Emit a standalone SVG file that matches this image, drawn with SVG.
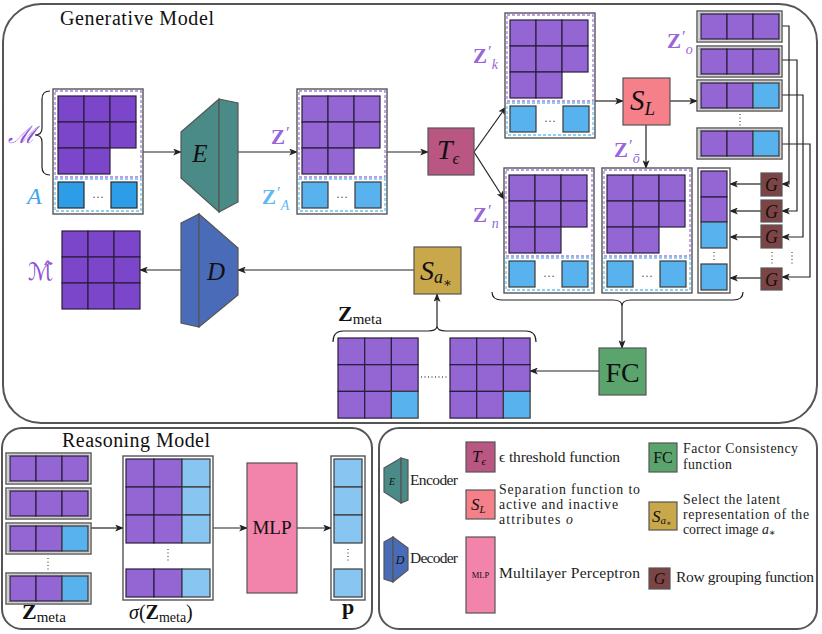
<svg xmlns="http://www.w3.org/2000/svg" width="822" height="634" viewBox="0 0 822 634">
<defs>
<style>
text{font-family:"Liberation Serif","DejaVu Serif",serif;fill:#111}
.panel{fill:none;stroke:#555;stroke-width:2}
.ob{fill:#fff;stroke:#555;stroke-width:1.4}
.ib{fill:none;stroke:#888;stroke-width:0.8}
.cp{fill:#9466d4;stroke:#2b1d3d;stroke-width:1.2}
.cm{fill:#7b46c9;stroke:#2b1d3d;stroke-width:1.2}
.cb{fill:#58b2ee;stroke:#3a3a3a;stroke-width:1.2}
.ca{fill:#2d9de8;stroke:#2a2a2a;stroke-width:1.2}
.cl{fill:#88c6f1;stroke:#3a3a3a;stroke-width:1.2}
.dp{fill:none;stroke:#a27ee0;stroke-width:1.3;stroke-dasharray:3 2}
.db{fill:none;stroke:#6cc0f0;stroke-width:1.3;stroke-dasharray:3 2}
.ln{fill:none;stroke:#222;stroke-width:1.2}
.arr{fill:none;stroke:#222;stroke-width:1.2;marker-end:url(#ah)}
.dot{fill:none;stroke:#555;stroke-width:1.3;stroke-dasharray:1 2.5}
.fn{stroke:#555;stroke-width:1.2}
.it{font-style:italic}
.zl{font-size:21px;font-weight:bold}
.pr{font-size:17px;font-weight:normal}
.sb{font-size:14px;font-style:italic;font-weight:normal}
.lg{font-size:15.5px;fill:#222}
.lg2{font-size:13.8px;fill:#222}
.cd{font-size:12px;fill:#555;text-anchor:middle}
.mid{text-anchor:middle}
</style>
<marker id="ah" viewBox="0 0 10 8" refX="9" refY="4" markerWidth="9" markerHeight="7" orient="auto" markerUnits="userSpaceOnUse"><path d="M0,0 L10,4 L0,8 L2.5,4 Z" fill="#222"/></marker>
<g id="blkM">
<rect class="ob" width="90" height="125"/>
<rect class="dp" x="2" y="2" width="86" height="86"/>
<rect class="cm" x="5" y="7" width="26" height="26"/><rect class="cm" x="31" y="7" width="26" height="26"/><rect class="cm" x="57" y="7" width="26" height="26"/>
<rect class="cm" x="5" y="33" width="26" height="26"/><rect class="cm" x="31" y="33" width="26" height="26"/><rect class="cm" x="57" y="33" width="26" height="26"/>
<rect class="cm" x="5" y="59" width="26" height="26"/><rect class="cm" x="31" y="59" width="26" height="26"/>
<rect class="db" x="2" y="90" width="86" height="32"/>
<rect class="ca" x="5" y="93" width="26" height="26"/><rect class="ca" x="58" y="93" width="26" height="26"/>
</g>
<g id="blkZ">
<rect class="ob" width="90" height="125"/>
<rect class="dp" x="2" y="2" width="86" height="86"/>
<rect class="cp" x="5" y="7" width="26" height="26"/><rect class="cp" x="31" y="7" width="26" height="26"/><rect class="cp" x="57" y="7" width="26" height="26"/>
<rect class="cp" x="5" y="33" width="26" height="26"/><rect class="cp" x="31" y="33" width="26" height="26"/><rect class="cp" x="57" y="33" width="26" height="26"/>
<rect class="cp" x="5" y="59" width="26" height="26"/><rect class="cp" x="31" y="59" width="26" height="26"/>
<rect class="db" x="2" y="90" width="86" height="32"/>
<rect class="cb" x="5" y="93" width="26" height="26"/><rect class="cb" x="58" y="93" width="26" height="26"/>
</g>
<g id="rowP">
<rect class="ob" width="85" height="31"/>
<rect class="ib" x="2" y="2" width="81" height="27"/>
<rect class="cp" x="4" y="3" width="26" height="25"/><rect class="cp" x="30" y="3" width="26" height="25"/><rect class="cp" x="56" y="3" width="26" height="25"/>
</g>
<g id="rowB">
<rect class="ob" width="85" height="31"/>
<rect class="ib" x="2" y="2" width="81" height="27"/>
<rect class="cp" x="4" y="3" width="26" height="25"/><rect class="cp" x="30" y="3" width="26" height="25"/><rect class="cb" x="56" y="3" width="26" height="25"/>
</g>
<g id="zm">
<rect class="cp" x="0" y="0" width="26.7" height="26.7"/><rect class="cp" x="26.7" y="0" width="26.7" height="26.7"/><rect class="cp" x="53.4" y="0" width="26.7" height="26.7"/>
<rect class="cp" x="0" y="26.7" width="26.7" height="26.7"/><rect class="cp" x="26.7" y="26.7" width="26.7" height="26.7"/><rect class="cp" x="53.4" y="26.7" width="26.7" height="26.7"/>
<rect class="cp" x="0" y="53.4" width="26.7" height="26.7"/><rect class="cp" x="26.7" y="53.4" width="26.7" height="26.7"/><rect class="cb" x="53.4" y="53.4" width="26.7" height="26.7"/>
</g>
</defs>

<g id="panels">
<rect class="panel" x="3" y="4" width="814" height="419" rx="38"/>
<rect class="panel" x="2" y="428" width="370" height="201" rx="20"/>
<rect class="panel" x="379" y="428" width="438" height="201" rx="20"/>
<text x="60" y="25" font-size="20" textLength="154">Generative Model</text>
<text x="62" y="447" font-size="20" textLength="148">Reasoning Model</text>
</g>

<g id="connectors">
<line class="arr" x1="143" y1="152" x2="181" y2="152"/>
<line class="arr" x1="238" y1="152" x2="297" y2="152"/>
<line class="arr" x1="387" y1="152" x2="428" y2="152"/>
<line class="arr" x1="474" y1="152" x2="506" y2="107"/>
<line class="arr" x1="474" y1="152" x2="504" y2="199"/>
<line class="arr" x1="595" y1="101" x2="623" y2="101"/>
<line class="arr" x1="670" y1="101" x2="697" y2="101"/>
<line class="arr" x1="646" y1="125" x2="646" y2="168"/>
<polyline class="arr" points="782,26 789,26 789,184 782,184"/>
<polyline class="arr" points="782,60 797,60 797,211 782,211"/>
<polyline class="arr" points="782,95 803,95 803,237 782,237"/>
<polyline class="arr" points="782,144 810,144 810,277 782,277"/>
<line class="arr" x1="761" y1="184" x2="730" y2="184"/>
<line class="arr" x1="761" y1="211" x2="730" y2="211"/>
<line class="arr" x1="761" y1="237" x2="730" y2="237"/>
<line class="arr" x1="761" y1="278" x2="730" y2="278"/>
<line class="dot" x1="740" y1="114" x2="740" y2="127"/>
<line class="dot" x1="772" y1="252" x2="772" y2="265"/>
<line class="dot" x1="792" y1="252" x2="792" y2="265"/>
<path class="ln" d="M492,292 Q492,300 502,300 L613,300 Q622,300 622,306 Q622,300 631,300 L733,300 Q743,300 743,292"/>
<line class="arr" x1="622" y1="306" x2="622" y2="348"/>
<line class="arr" x1="599" y1="371" x2="530" y2="371"/>
<path class="ln" d="M333,342 Q333,331 343,331 L428,331 Q437,331 437,326 Q437,331 446,331 L526,331 Q536,331 536,342"/>
<line class="arr" x1="437" y1="326" x2="437" y2="294"/>
<line class="arr" x1="414" y1="270" x2="238" y2="270"/>
<line class="arr" x1="181" y1="270" x2="140" y2="270"/>
<path class="ln" d="M50,91 Q42,91 42,99 L42,128 Q42,135 35,135 Q42,135 42,142 L42,167 Q42,175 50,175"/>
<line class="dot" x1="421" y1="377" x2="448" y2="377"/>
<line class="arr" x1="91" y1="528" x2="123" y2="528"/>
<line class="arr" x1="213" y1="528" x2="247" y2="528"/>
<line class="arr" x1="297" y1="528" x2="331" y2="528"/>
</g>

<g id="M">
<use href="#blkM" x="53" y="89"/>
<text class="cd" x="98" y="201">···</text>
<text x="8" y="143" font-size="24" class="it" style="fill:#8c55d4">ℳ</text>
<text x="27" y="204" font-size="24" class="it" style="fill:#3fa6ea">A</text>
</g>

<g id="E">
<polygon points="181,132 219,99 219,212 181,178" fill="#4a8b88" class="fn"/>
<polygon points="219,99 238,103 238,202 219,212" fill="#4a8b88" class="fn"/>
<text x="200" y="162" font-size="25" class="it mid">E</text>
</g>

<g id="Zp">
<use href="#blkZ" x="297" y="89"/>
<text class="cd" x="342" y="201">···</text>
<text x="271" y="144" class="zl" style="fill:#9a66d8">Z<tspan class="pr" dx="1" dy="-6">′</tspan></text>
<text x="262" y="204" class="zl" style="fill:#62b8f0">Z<tspan class="pr" dx="1" dy="-6">′</tspan><tspan class="sb" dx="0" dy="12">A</tspan></text>
</g>

<g id="T">
<rect x="428" y="128" width="46" height="47" fill="#b95681" class="fn"/>
<text x="437" y="159" font-size="28" class="it">T<tspan font-size="17" dy="5">ϵ</tspan></text>
</g>

<g id="Zk">
<use href="#blkZ" x="505" y="13"/>
<text class="cd" x="550" y="125">···</text>
<text x="473" y="63" class="zl" style="fill:#9a66d8">Z<tspan class="pr" dx="1" dy="-6">′</tspan><tspan class="sb" dx="0" dy="12">k</tspan></text>
</g>

<g id="SL">
<rect x="623" y="78" width="47" height="47" fill="#f5808a" class="fn"/>
<text x="630" y="110" font-size="29" class="it">S<tspan font-size="19" dy="5">L</tspan></text>
</g>

<g id="Zo-rows">
<use href="#rowP" x="697" y="11"/>
<use href="#rowP" x="697" y="46"/>
<use href="#rowB" x="697" y="80"/>
<use href="#rowB" x="697" y="128"/>
<text x="667" y="48" class="zl" style="fill:#9a66d8">Z<tspan class="pr" dx="1" dy="-6">′</tspan><tspan class="sb" dx="0" dy="12">o</tspan></text>
</g>

<g id="Zn">
<use href="#blkZ" x="504" y="168"/>
<text class="cd" x="549" y="280">···</text>
<text x="473" y="222" class="zl" style="fill:#9a66d8">Z<tspan class="pr" dx="1" dy="-6">′</tspan><tspan class="sb" dx="0" dy="12">n</tspan></text>
</g>

<g id="Zobar">
<use href="#blkZ" x="602" y="168"/>
<text class="cd" x="647" y="280">···</text>
<text x="614" y="157" class="zl" style="fill:#9a66d8">Z<tspan class="pr" dx="1" dy="-6">′</tspan><tspan class="sb" dx="0" dy="12">ō</tspan></text>
</g>

<g id="col">
<rect class="ob" x="698" y="168" width="32" height="125"/>
<rect class="cp" x="701" y="171" width="26" height="26"/>
<rect class="cp" x="701" y="197" width="26" height="25"/>
<rect class="cb" x="701" y="222" width="26" height="26"/>
<line class="dot" x1="714" y1="252" x2="714" y2="262"/>
<rect class="cb" x="701" y="264" width="26" height="26"/>
</g>

<g id="G1"><rect x="761" y="173" width="21" height="23" fill="#7d4446" class="fn"/><text x="771.5" y="191" font-size="18" class="it mid">G</text></g>
<g id="G2"><rect x="761" y="200" width="21" height="22" fill="#7d4446" class="fn"/><text x="771.5" y="217.5" font-size="18" class="it mid">G</text></g>
<g id="G3"><rect x="761" y="225" width="21" height="23" fill="#7d4446" class="fn"/><text x="771.5" y="243" font-size="18" class="it mid">G</text></g>
<g id="G4"><rect x="761" y="268" width="21" height="22" fill="#7d4446" class="fn"/><text x="771.5" y="285.5" font-size="18" class="it mid">G</text></g>

<g id="FC">
<rect x="599" y="348" width="47" height="47" fill="#5ba46d" class="fn"/>
<text x="622.5" y="382" font-size="28" class="mid">FC</text>
</g>

<g id="Zmeta">
<use href="#zm" x="338" y="338"/>
<use href="#zm" x="450" y="338"/>
<text x="338" y="321" font-size="22" font-weight="bold">Z<tspan font-size="15" font-weight="normal" dy="3">meta</tspan></text>
</g>

<g id="Sa">
<rect x="414" y="247" width="47" height="47" fill="#c9a84c" class="fn"/>
<text x="420" y="280" font-size="28" class="it">S<tspan font-size="18" dy="3">a</tspan><tspan font-size="13" font-style="normal" dy="4">∗</tspan></text>
</g>

<g id="D">
<polygon points="181,223 199,214 199,327 181,323" fill="#4a6bb8" class="fn"/>
<polygon points="199,214 238,248 238,295 199,327" fill="#4a6bb8" class="fn"/>
<text x="216" y="280" font-size="25" class="it mid">D</text>
</g>

<g id="Mhat">
<rect class="cm" x="62" y="231" width="26" height="26"/><rect class="cm" x="88" y="231" width="26" height="26"/><rect class="cm" x="114" y="231" width="26" height="26"/>
<rect class="cm" x="62" y="257" width="26" height="26"/><rect class="cm" x="88" y="257" width="26" height="26"/><rect class="cm" x="114" y="257" width="26" height="26"/>
<rect class="cm" x="62" y="283" width="26" height="26"/><rect class="cm" x="88" y="283" width="26" height="26"/><rect class="cm" x="114" y="283" width="26" height="26"/>
<text x="28" y="280" font-size="24" style="fill:#8c55d4;font-family:'DejaVu Serif','DejaVu Sans',serif">ℳ̂</text>
</g>

<g id="R-rows">
<use href="#rowP" x="6" y="453"/>
<use href="#rowP" x="6" y="488"/>
<use href="#rowB" x="6" y="523"/>
<line class="dot" x1="48" y1="558" x2="48" y2="571"/>
<use href="#rowB" x="6" y="573"/>
<text x="22" y="619" font-size="22" font-weight="bold">Z<tspan font-size="15" font-weight="normal" dy="3">meta</tspan></text>
</g>

<g id="sigma">
<rect class="ob" x="123" y="456" width="90" height="144"/>
<rect class="cp" x="126" y="459" width="28" height="28"/><rect class="cp" x="154" y="459" width="28" height="28"/><rect class="cl" x="182" y="459" width="28" height="28"/>
<rect class="cp" x="126" y="487" width="28" height="28"/><rect class="cp" x="154" y="487" width="28" height="28"/><rect class="cl" x="182" y="487" width="28" height="28"/>
<rect class="cp" x="126" y="515" width="28" height="28"/><rect class="cp" x="154" y="515" width="28" height="28"/><rect class="cl" x="182" y="515" width="28" height="28"/>
<line class="dot" x1="168" y1="549" x2="168" y2="563"/>
<rect class="cp" x="126" y="569" width="28" height="28"/><rect class="cp" x="154" y="569" width="28" height="28"/><rect class="cl" x="182" y="569" width="28" height="28"/>
<text x="129" y="619" font-size="20"><tspan class="it">σ</tspan>(<tspan font-weight="bold">Z</tspan><tspan font-size="14" dy="3">meta</tspan><tspan dy="-3">)</tspan></text>
</g>

<g id="MLP">
<rect x="247" y="463" width="50" height="130" fill="#f283ab" class="fn"/>
<text x="272" y="534" font-size="19" class="mid">MLP</text>
</g>

<g id="p">
<rect class="ob" x="331" y="456" width="34" height="144"/>
<rect class="cl" x="334" y="459" width="28" height="28"/>
<rect class="cl" x="334" y="487" width="28" height="28"/>
<rect class="cl" x="334" y="515" width="28" height="28"/>
<line class="dot" x1="348" y1="549" x2="348" y2="563"/>
<rect class="cl" x="334" y="569" width="28" height="28"/>
<text x="342" y="614" font-size="22" font-weight="bold">p</text>
</g>

<g id="legend">
<g id="lg-E">
<polygon points="384,468 401,458 401,503 384,492" fill="#4a8b88" class="fn"/>
<polygon points="401,458 408,460 408,500 401,503" fill="#4a8b88" class="fn"/>
<text x="392" y="485" font-size="10" class="it mid">E</text>
<text x="410" y="485" class="lg" textLength="48">Encoder</text>
</g>
<g id="lg-D">
<polygon points="384,542 393,537 393,582 384,579" fill="#4a6bb8" class="fn"/>
<polygon points="393,537 408,548 408,570 393,582" fill="#4a6bb8" class="fn"/>
<text x="400" y="564" font-size="12" class="it mid">D</text>
<text x="410" y="563" class="lg" textLength="48">Decoder</text>
</g>
<g id="lg-T">
<rect x="466" y="442" width="29" height="30" fill="#b95681" class="fn"/>
<text x="472" y="462" font-size="17" class="it">T<tspan font-size="11" dy="3">ϵ</tspan></text>
<text x="499" y="462" class="lg" textLength="121">ϵ threshold function</text>
</g>
<g id="lg-SL">
<rect x="466" y="490" width="29" height="29" fill="#f5808a" class="fn"/>
<text x="471" y="510" font-size="17" class="it">S<tspan font-size="11" dy="3">L</tspan></text>
<text x="499" y="494" class="lg2" textLength="141">Separation function to</text>
<text x="499" y="509" class="lg2" textLength="119">active and inactive</text>
<text x="499" y="524" class="lg2" textLength="74">attributes <tspan class="it">o</tspan></text>
</g>
<g id="lg-MLP">
<rect x="466" y="537" width="29" height="76" fill="#f283ab" class="fn"/>
<text x="480.5" y="578" font-size="8.5" class="mid">MLP</text>
<text x="499" y="578" class="lg" textLength="141">Multilayer Perceptron</text>
</g>
<g id="lg-FC">
<rect x="649" y="443" width="28" height="29" fill="#5ba46d" class="fn"/>
<text x="663" y="463" font-size="16" class="mid">FC</text>
<text x="683" y="453" class="lg2" textLength="115">Factor Consistency</text>
<text x="683" y="469" class="lg2" textLength="49">function</text>
</g>
<g id="lg-Sa">
<rect x="649" y="502" width="28" height="28" fill="#c9a84c" class="fn"/>
<text x="652" y="522" font-size="17" class="it">S<tspan font-size="11" dy="2">a</tspan><tspan font-size="8" font-style="normal" dy="2">∗</tspan></text>
<text x="683" y="504" class="lg2" textLength="97">Select the latent</text>
<text x="683" y="519" class="lg2" textLength="126">representation of the</text>
<text x="683" y="534" class="lg2">correct image <tspan class="it">a</tspan><tspan font-size="10" dy="2">∗</tspan></text>
</g>
<g id="lg-G">
<rect x="649" y="568" width="21" height="21" fill="#7d4446" class="fn"/>
<text x="659.5" y="584" font-size="16" class="it mid">G</text>
<text x="676" y="582" class="lg" textLength="138">Row grouping function</text>
</g>
</g>
</svg>
